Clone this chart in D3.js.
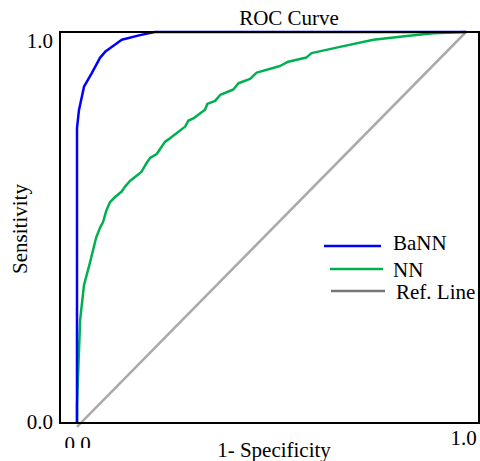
<!DOCTYPE html>
<html>
<head>
<meta charset="utf-8">
<script src="https://cdn.jsdelivr.net/npm/d3@7"></script>
<style>
    body { margin: 0; background: #fff; }
    text { font-family: "Liberation Serif", "Times New Roman", serif; font-size: 21px; fill: #000; }
</style>
</head>
<body>
<div id="chart"></div>
<script>
// series (1 - specificity, sensitivity)
const bannX = [0, 0, 0.005, 0.018, 0.038, 0.059, 0.074, 0.115, 0.162, 0.2, 1]
const bannY = [0, 0.754, 0.80, 0.86, 0.895, 0.934, 0.951, 0.980, 0.992, 1, 1]

const nnX = [0, 0, 0.008, 0.018, 0.033, 0.049, 0.059, 0.067, 0.075, 0.085, 0.098, 0.115, 0.123, 0.136,
    0.158, 0.166, 0.179, 0.188, 0.205, 0.218, 0.226, 0.239, 0.278, 0.286, 0.299, 0.329, 0.335, 0.355,
    0.368, 0.402, 0.415, 0.445, 0.462, 0.522, 0.543, 0.590, 0.603, 0.676, 0.762, 0.848, 0.916, 1]
const nnY = [0, 0.046, 0.263, 0.353, 0.409, 0.473, 0.499, 0.514, 0.542, 0.565, 0.578, 0.592, 0.604, 0.619,
    0.636, 0.643, 0.665, 0.678, 0.688, 0.707, 0.719, 0.728, 0.758, 0.773, 0.779, 0.801, 0.816, 0.824,
    0.839, 0.853, 0.869, 0.880, 0.896, 0.913, 0.924, 0.935, 0.946, 0.962, 0.980, 0.990, 0.997, 1]

const refX = [0, 1]
const refY = [-0.01, 1]

const tickValues = [0, 1]
const tickLabels = ['0.0', '1.0']

const legendLabels = ['BaNN', 'NN', 'Ref. Line']
const legendColors = ['#0000ff', '#00b050', '#777777']

const config = {
    width: 480,
    height: 461,
    frame: { left: 60, right: 479, top: 32, bottom: 423 }
}

const svg = d3.select('#chart').append('svg')
    .attr('width', config.width)
    .attr('height', config.height)

// x: 0..1 sits inside the frame with some padding on the left
const xScale = d3.scaleLinear()
    .domain([0, 1])
    .range([77, 466])

const yScale = d3.scaleLinear()
    .domain([0, 1])
    .range([config.frame.bottom, config.frame.top])

const line = d3.line()
    .x(d => xScale(d[0]))
    .y(d => yScale(d[1]))

// title
svg.append('text')
    .attr('x', 289)
    .attr('y', 25)
    .attr('text-anchor', 'middle')
    .text('ROC Curve')

// y ticks
const yAxis = d3.axisLeft(yScale)
    .tickValues(tickValues)
    .tickFormat((d, i) => tickLabels[i])
    .tickSize(0)
    .tickPadding(7)

svg.append('g')
    .attr('transform', `translate(${config.frame.left},0)`)
    .call(yAxis)
    .call(g => g.select('.domain').remove())
    .call(g => g.selectAll('text')
        .attr('dy', d => d === 1 ? '0.76em' : '0.24em')
        .attr('font-family', null)
        .attr('font-size', null))

// x ticks
const xAxis = d3.axisBottom(xScale)
    .tickValues(tickValues)
    .tickFormat((d, i) => tickLabels[i])
    .tickSize(0)
    .tickPadding(0)

svg.append('g')
    .attr('transform', `translate(0,${config.frame.bottom})`)
    .call(xAxis)
    .call(g => g.select('.domain').remove())
    .call(g => g.selectAll('text')
        .attr('dy', d => d === 1 ? 22 : 28)
        .attr('dx', d => d === 1 ? -3 : 0)
        .attr('font-family', null)
        .attr('font-size', null))

// axis title box covers the bottom of the first x tick, like the original
svg.append('rect')
    .attr('x', config.frame.left)
    .attr('y', 448)
    .attr('width', 380)
    .attr('height', config.height - 448)
    .attr('fill', '#fff')

svg.append('text')
    .attr('x', 274)
    .attr('y', 457)
    .attr('text-anchor', 'middle')
    .text('1- Specificity')

svg.append('text')
    .attr('transform', 'translate(27,229) rotate(-90)')
    .attr('text-anchor', 'middle')
    .text('Sensitivity')

// curves
svg.append('path')
    .datum(refX.map((x, i) => [x, refY[i]]))
    .attr('d', line)
    .attr('fill', 'none')
    .attr('stroke', '#aaaaaa')
    .attr('stroke-width', 2.5)

svg.append('path')
    .datum(nnX.map((x, i) => [x, nnY[i]]))
    .attr('d', line)
    .attr('fill', 'none')
    .attr('stroke', legendColors[1])
    .attr('stroke-width', 2.5)
    .attr('stroke-linejoin', 'round')

svg.append('path')
    .datum(bannX.map((x, i) => [x, bannY[i]]))
    .attr('d', line)
    .attr('fill', 'none')
    .attr('stroke', legendColors[0])
    .attr('stroke-width', 2.5)
    .attr('stroke-linejoin', 'round')

// frame
svg.append('rect')
    .attr('x', config.frame.left)
    .attr('y', config.frame.top)
    .attr('width', config.frame.right - config.frame.left)
    .attr('height', config.frame.bottom - config.frame.top)
    .attr('fill', 'none')
    .attr('stroke', '#000')
    .attr('stroke-width', 2)

// legend
const legendRows = [
    { x1: 324, x2: 381, y: 246, tx: 393, ty: 250 },
    { x1: 330, x2: 383, y: 269, tx: 393, ty: 277 },
    { x1: 331, x2: 385, y: 291, tx: 396, ty: 299 }
]

const legend = svg.append('g').attr('class', 'legend')

legend.selectAll('line')
    .data(legendLabels)
    .join('line')
    .attr('x1', (d, i) => legendRows[i].x1)
    .attr('x2', (d, i) => legendRows[i].x2)
    .attr('y1', (d, i) => legendRows[i].y)
    .attr('y2', (d, i) => legendRows[i].y)
    .attr('stroke', (d, i) => legendColors[i])
    .attr('stroke-width', 2.5)

legend.selectAll('text')
    .data(legendLabels)
    .join('text')
    .attr('x', (d, i) => legendRows[i].tx)
    .attr('y', (d, i) => legendRows[i].ty)
    .text(d => d)
</script>
</body>
</html>
